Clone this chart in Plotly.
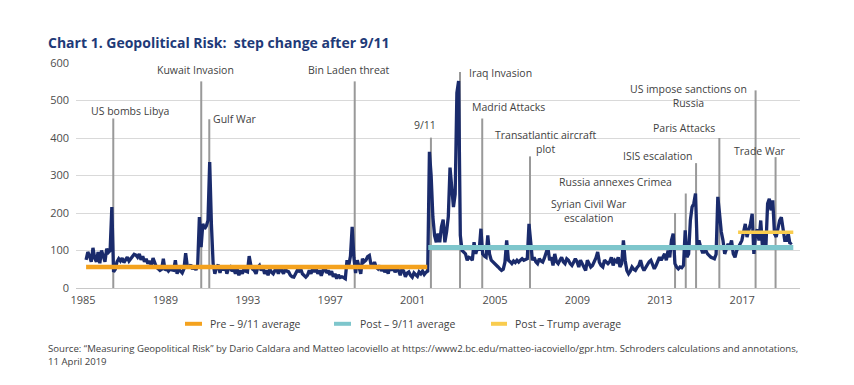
import plotly.graph_objects as go

# ---------------- data ----------------
first_month = 1985.15   # axis position of Jan 1985
gpr_index = [
    75, 96, 85, 70, 107, 80, 70, 96, 66, 100, 85, 70,          # 1985
    105, 95, 100, 216, 43, 50, 70, 78, 72, 80, 68, 75,         # 1986
    82, 72, 78, 85, 90, 88, 82, 91, 75, 85, 70, 78,            # 1987
    65, 72, 60, 80, 68, 55, 51, 47, 50, 78, 47, 52,            # 1988
    45, 50, 48, 47, 74, 38, 50, 45, 40, 51, 93, 56,            # 1989
    56, 62, 50, 58, 48, 60, 189, 109, 171, 158, 165, 180,      # 1990
    336, 170, 65, 38, 55, 62, 40, 60, 47, 58, 38, 52,          # 1991
    56, 45, 51, 38, 50, 34, 47, 38, 51, 45, 43, 85,            # 1992
    60, 50, 47, 38, 55, 60, 47, 56, 38, 47, 34, 51,            # 1993
    42, 38, 47, 51, 38, 51, 47, 38, 51, 45, 43, 34,            # 1994
    30, 29, 38, 47, 45, 51, 38, 32, 29, 34, 47, 38,            # 1995
    51, 43, 51, 38, 47, 33, 45, 60, 40, 47, 35, 45,            # 1996
    30, 38, 25, 35, 28, 30, 28, 25, 74, 60, 85, 163,           # 1997
    82, 40, 74, 52, 38, 78, 70, 74, 84, 87, 62, 60,            # 1998
    69, 55, 51, 60, 45, 56, 42, 51, 38, 60, 47, 55,            # 1999
    42, 51, 47, 34, 51, 45, 30, 40, 43, 34, 29, 40,            # 2000
    35, 31, 43, 38, 45, 36, 42, 45, 363, 300, 190, 140,        # 2001
    122, 145, 122, 163, 182, 122, 150, 190, 321, 252, 216, 250,  # 2002
    520, 552, 140, 100, 96, 91, 74, 82, 80, 74, 122, 91,       # 2003
    109, 100, 158, 91, 85, 82, 140, 91, 74, 70, 65, 60,        # 2004
    56, 51, 47, 50, 69, 127, 74, 70, 65, 72, 68, 74,           # 2005
    69, 74, 78, 74, 76, 78, 171, 127, 74, 82, 70, 65,          # 2006
    78, 72, 69, 80, 96, 109, 74, 82, 60, 91, 70, 65,           # 2007
    74, 82, 70, 65, 78, 74, 65, 60, 69, 78, 70, 56,            # 2008
    74, 65, 60, 47, 74, 65, 56, 60, 69, 80, 96, 69,            # 2009
    60, 56, 74, 69, 65, 70, 82, 60, 74, 70, 82, 56,            # 2010
    65, 127, 74, 47, 38, 45, 56, 50, 47, 55, 60, 74,           # 2011
    56, 47, 55, 65, 70, 74, 60, 51, 60, 70, 82, 74,            # 2012
    85, 91, 74, 100, 82, 127, 145, 65, 56, 51, 56, 54,         # 2013
    60, 154, 82, 91, 180, 216, 225, 252, 109, 127, 109, 96,    # 2014
    96, 100, 91, 85, 82, 80, 78, 90, 243, 198, 150, 127,       # 2015
    91, 105, 118, 110, 127, 91, 82, 100, 109, 118, 127, 149,   # 2016
    171, 136, 150, 171, 198, 91, 145, 156, 127, 180, 109, 150, # 2017
    109, 225, 238, 207, 234, 145, 136, 163, 180, 189, 163, 127,  # 2018
    127, 145, 118, 122,                                        # 2019
]

event_names = ["US bombs Libya", "Kuwait Invasion", "Gulf War", "Bin Laden threat", "9/11",
               "Iraq Invasion", "Madrid Attacks", "Transatlantic aircraft plot",
               "Syrian Civil War escalation", "Russia annexes Crimea", "ISIS escalation",
               "Paris Attacks", "US impose sanctions on Russia", "Trade War"]
event_year = [1986.47, 1990.74, 1991.13, 1998.19, 2001.89, 2003.30, 2004.38, 2006.70,
              2013.74, 2014.26, 2014.76, 2015.89, 2017.65, 2018.62]
event_top = [452, 551, 450, 551, 401, 576, 452, 351, 200, 252, 333, 400, 527, 349]

avg_names = ["Pre – 9/11 average", "Post – 9/11 average", "Post – Trump average"]
avg_values = [56, 108, 149]
avg_start = [1985.15, 2001.76, 2016.80]
avg_end = [2001.71, 2019.48, 2019.48]

tick_years = [1985, 1989, 1993, 1997, 2001, 2005, 2009, 2013, 2017]
y_ticks = [0, 100, 200, 300, 400, 500, 600]

# ---------------- styling / layout positions ----------------
W, H = 854, 385
L, R, T, B = 76, 800, 62.7, 287.7          # plot area in px
FONT = "Open Sans"
navy = "#1A2B6C"
text_col = "#3F3F3F"
avg_colors = ["#F4A21E", "#7EC6CC", "#F9CC4E"]
avg_widths = [4.5, 5, 3.5]

def px_x(px):
    return (px - L) / (R - L)

def px_y(py):
    return (B - py) / (B - T)

x_vals = [first_month + i / 12 for i in range(len(gpr_index))]

fig = go.Figure()

# event lines
ex, ey = [], []
for xv, top in zip(event_year, event_top):
    ex += [xv, xv, None]
    ey += [0, top, None]
fig.add_trace(go.Scatter(x=ex, y=ey, mode="lines", line=dict(color="#999999", width=2),
                         hoverinfo="skip", showlegend=False))

# main series
fig.add_trace(go.Scatter(x=x_vals, y=gpr_index, mode="lines",
                         line=dict(color=navy, width=3.3), name="GPR", showlegend=False))

# averages
for name, v, s, e, c, w in zip(avg_names, avg_values, avg_start, avg_end, avg_colors, avg_widths):
    fig.add_trace(go.Scatter(x=[s, e], y=[v, v], mode="lines", line=dict(color=c, width=w),
                             name=name, showlegend=False))

# event labels (text positions in axis units)
label_spec = [
    ("US bombs Libya", 1987.28, 472, "center"),
    ("Kuwait Invasion", 1990.46, 582, "center"),
    ("Gulf War", 1991.20, 452, "left"),
    ("Bin Laden threat", 1997.89, 582, "center"),
    ("9/11", 2001.58, 434, "center"),
    ("Iraq Invasion", 2003.62, 574, "left"),
    ("Madrid Attacks", 2005.66, 483, "center"),
    ("Transatlantic aircraft<br>plot", 2007.43, 389, "center"),
    ("Syrian Civil War<br>escalation", 2009.55, 205, "center"),
    ("Russia annexes Crimea", 2010.83, 283, "center"),
    ("ISIS escalation", 2012.91, 352, "center"),
    ("Paris Attacks", 2014.19, 427, "center"),
    ("US impose sanctions on<br>Russia", 2014.40, 513, "center"),
    ("Trade War", 2017.86, 365, "center"),
]
annotations = []
for txt, xv, yv, anc in label_spec:
    annotations.append(dict(x=xv, y=yv, xref="x", yref="y", text=txt, showarrow=False,
                            xanchor=anc, yanchor="middle", align="center",
                            font=dict(family=FONT, size=10.5, color=text_col)))

# manual legend
shapes = []
leg_y = 323.5
leg_items = [(185, 202, 208), (334, 351, 358), (491, 507, 513)]
for (x0, x1, tx), name, c in zip(leg_items, avg_names, avg_colors):
    shapes.append(dict(type="line", xref="paper", yref="paper",
                       x0=px_x(x0), x1=px_x(x1), y0=px_y(leg_y), y1=px_y(leg_y),
                       line=dict(color=c, width=4)))
    annotations.append(dict(x=px_x(tx), y=px_y(leg_y), xref="paper", yref="paper", text=name,
                            showarrow=False, xanchor="left", yanchor="middle",
                            font=dict(family=FONT, size=10.5, color=text_col)))

# source
src1 = ("Source: “Measuring Geopolitical Risk” by Dario Caldara and Matteo Iacoviello at "
        "https://www2.bc.edu/matteo-iacoviello/gpr.htm. Schroders calculations and annotations,")
src2 = "11 April 2019"
for txt, yy in [(src1, 348), (src2, 361)]:
    annotations.append(dict(x=px_x(46), y=px_y(yy), xref="paper", yref="paper", text=txt,
                            showarrow=False, xanchor="left", yanchor="middle",
                            font=dict(family=FONT, size=9.6, color=text_col)))

fig.update_layout(
    width=W, height=H,
    margin=dict(l=L, r=W - R, t=T, b=H - B, pad=0),
    paper_bgcolor="white", plot_bgcolor="white",
    title=dict(text="Chart 1. Geopolitical Risk:  step change after 9/11",
               font=dict(family=FONT, size=14, color="#1E3A78", weight="bold"),
               x=48 / W, xanchor="left", xref="container",
               y=1 - 43 / H, yanchor="middle", yref="container"),
    xaxis=dict(range=[1985 + (L - 83) / 20.6, 1985 + (R - 83) / 20.6],
               tickvals=tick_years, ticktext=[str(t) for t in tick_years],
               showgrid=False, zeroline=False, showline=False, ticks="",
               tickfont=dict(family=FONT, size=11, color="#4D4D4D"),
               ticklabelstandoff=4, fixedrange=True),
    yaxis=dict(range=[0, 600], tickvals=y_ticks, showgrid=True, gridcolor="#D9D9D9",
               gridwidth=1, zeroline=True, zerolinecolor="#C8C8C8", zerolinewidth=1,
               showline=False, ticks="",
               tickfont=dict(family=FONT, size=11, color="#4D4D4D"),
               ticklabelstandoff=6, fixedrange=True),
    annotations=annotations,
    shapes=shapes,
    showlegend=False,
)

fig.write_html("out.html", config={"displayModeBar": False},
               post_script="document.body.style.margin='0';")
